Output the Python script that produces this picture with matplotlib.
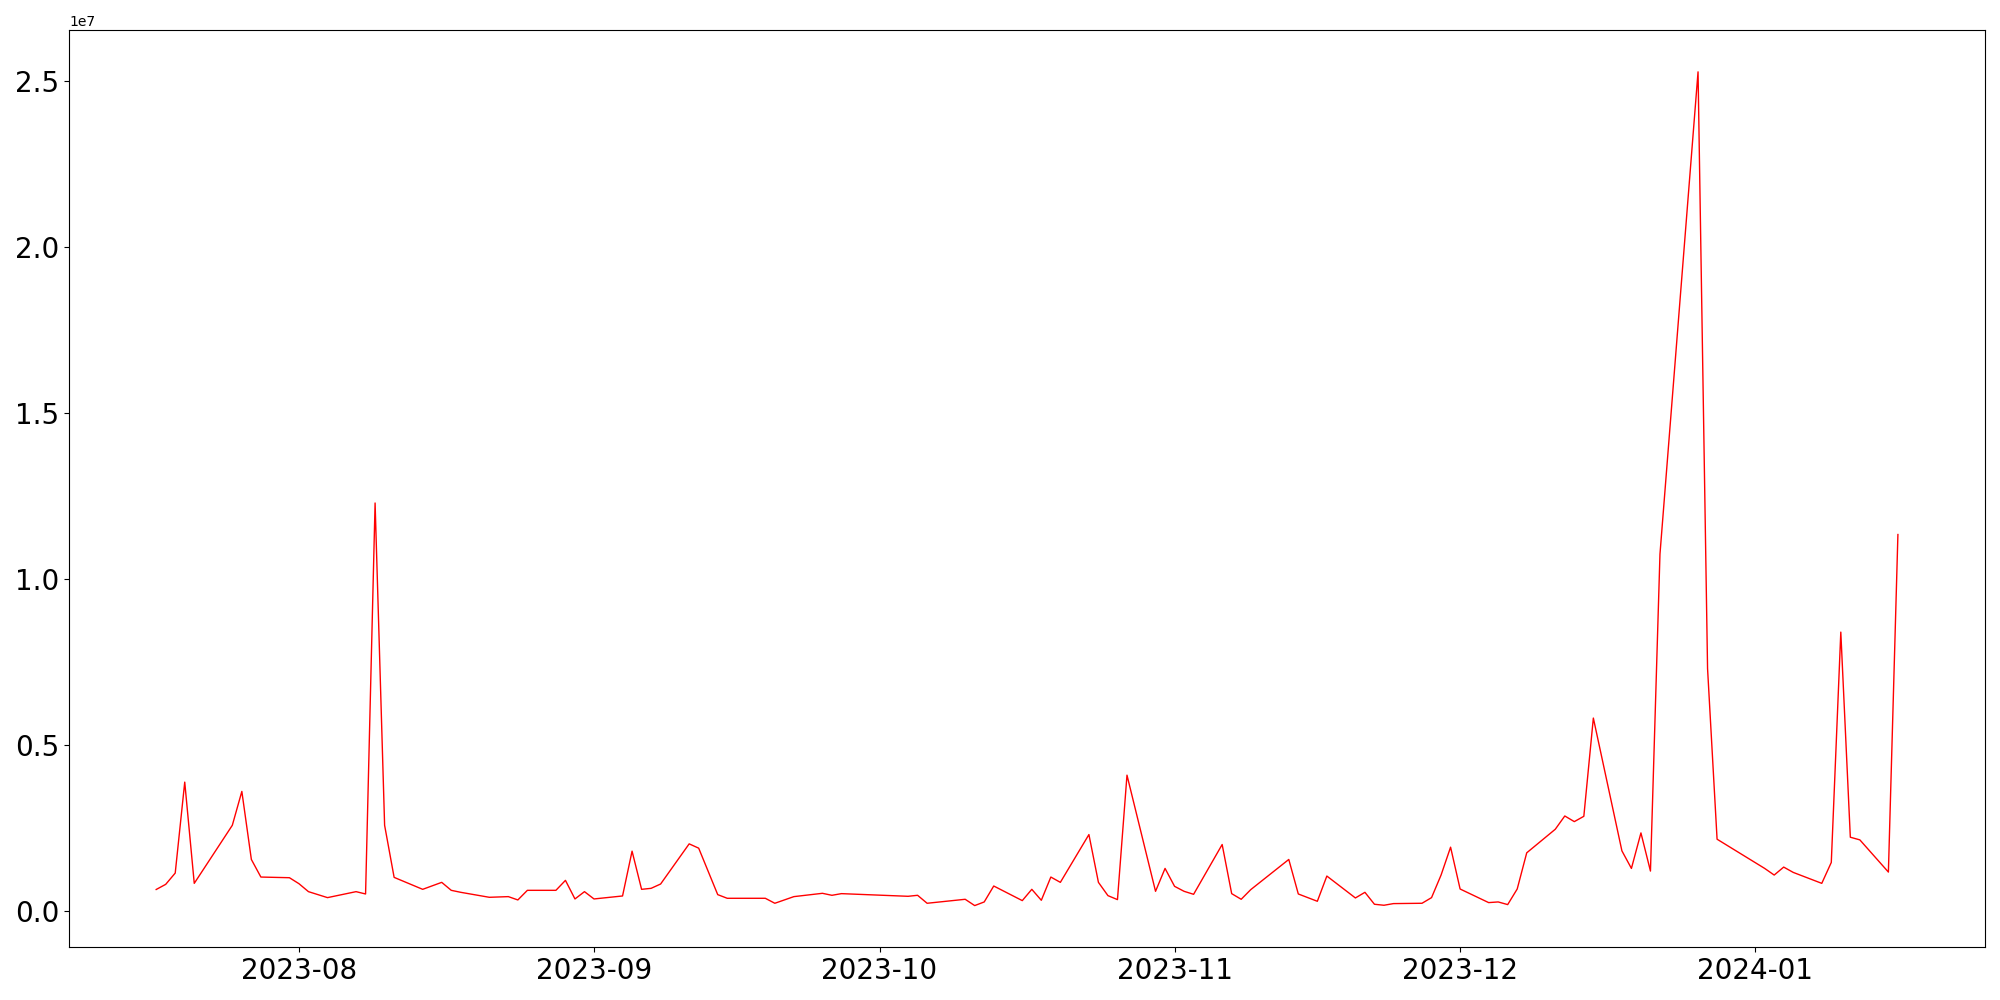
import pandas as pd
import matplotlib
matplotlib.use('Agg')
import matplotlib.pyplot as plt

# daily values (x1e6)
dates = [
    '2023-07-17', '2023-07-18', '2023-07-19', '2023-07-20', '2023-07-21',
    '2023-07-25', '2023-07-26', '2023-07-27', '2023-07-28', '2023-07-31',
    '2023-08-01', '2023-08-02', '2023-08-04', '2023-08-07', '2023-08-08',
    '2023-08-09', '2023-08-10', '2023-08-11', '2023-08-14', '2023-08-16',
    '2023-08-17', '2023-08-18', '2023-08-21', '2023-08-22', '2023-08-23',
    '2023-08-24', '2023-08-25', '2023-08-28', '2023-08-29', '2023-08-30',
    '2023-08-31', '2023-09-01', '2023-09-04', '2023-09-05', '2023-09-06',
    '2023-09-07', '2023-09-08', '2023-09-11', '2023-09-12', '2023-09-14',
    '2023-09-15', '2023-09-19', '2023-09-20', '2023-09-22', '2023-09-25',
    '2023-09-26', '2023-09-27', '2023-10-04', '2023-10-05', '2023-10-06',
    '2023-10-10', '2023-10-11', '2023-10-12', '2023-10-13', '2023-10-16',
    '2023-10-17', '2023-10-18', '2023-10-19', '2023-10-20', '2023-10-23',
    '2023-10-24', '2023-10-25', '2023-10-26', '2023-10-27', '2023-10-30',
    '2023-10-31', '2023-11-01', '2023-11-02', '2023-11-03', '2023-11-06',
    '2023-11-07', '2023-11-08', '2023-11-09', '2023-11-13', '2023-11-14',
    '2023-11-16', '2023-11-17', '2023-11-20', '2023-11-21', '2023-11-22',
    '2023-11-23', '2023-11-24', '2023-11-27', '2023-11-28', '2023-11-29',
    '2023-11-30', '2023-12-01', '2023-12-04', '2023-12-05', '2023-12-06',
    '2023-12-07', '2023-12-08', '2023-12-11', '2023-12-12', '2023-12-13',
    '2023-12-14', '2023-12-15', '2023-12-18', '2023-12-19', '2023-12-20',
    '2023-12-21', '2023-12-22', '2023-12-26', '2023-12-27', '2023-12-28',
    '2024-01-02', '2024-01-03', '2024-01-04', '2024-01-05', '2024-01-08',
    '2024-01-09', '2024-01-10', '2024-01-11', '2024-01-12', '2024-01-15',
    '2024-01-16',
]
values_m = [
    0.645, 0.80, 1.14, 3.88, 0.83,
    2.58, 3.60, 1.55, 1.02, 1.00,
    0.82, 0.58, 0.40, 0.58, 0.51,
    12.29, 2.58, 1.01, 0.65, 0.86,
    0.62, 0.56, 0.41, 0.42, 0.43,
    0.33, 0.62, 0.62, 0.92, 0.36,
    0.58, 0.36, 0.45, 1.80, 0.65,
    0.68, 0.81, 2.02, 1.89, 0.49,
    0.38, 0.38, 0.23, 0.43, 0.53,
    0.47, 0.52, 0.44, 0.47, 0.23,
    0.35, 0.16, 0.27, 0.75, 0.31,
    0.65, 0.32, 1.02, 0.86, 2.30,
    0.86, 0.46, 0.34, 4.09, 0.59,
    1.28, 0.74, 0.59, 0.50, 2.00,
    0.52, 0.35, 0.64, 1.55, 0.51,
    0.29, 1.05, 0.39, 0.56, 0.20,
    0.17, 0.22, 0.23, 0.40, 1.08,
    1.92, 0.66, 0.25, 0.27, 0.19,
    0.66, 1.75, 2.46, 2.86, 2.69,
    2.85, 5.81, 1.81, 1.28, 2.35,
    1.20, 10.75, 25.28, 7.30, 2.16,
    1.28, 1.08, 1.32, 1.16, 0.83,
    1.46, 8.40, 2.22, 2.14, 1.17,
    11.34,
]

x = pd.to_datetime(dates)
y = [v * 1e6 for v in values_m]

plt.figure(figsize=(20, 10), dpi=100)
plt.plot(x, y, color='red', linewidth=1)
plt.xticks(fontsize=20)
plt.yticks(fontsize=20)
plt.tight_layout()
plt.savefig('out.png')
